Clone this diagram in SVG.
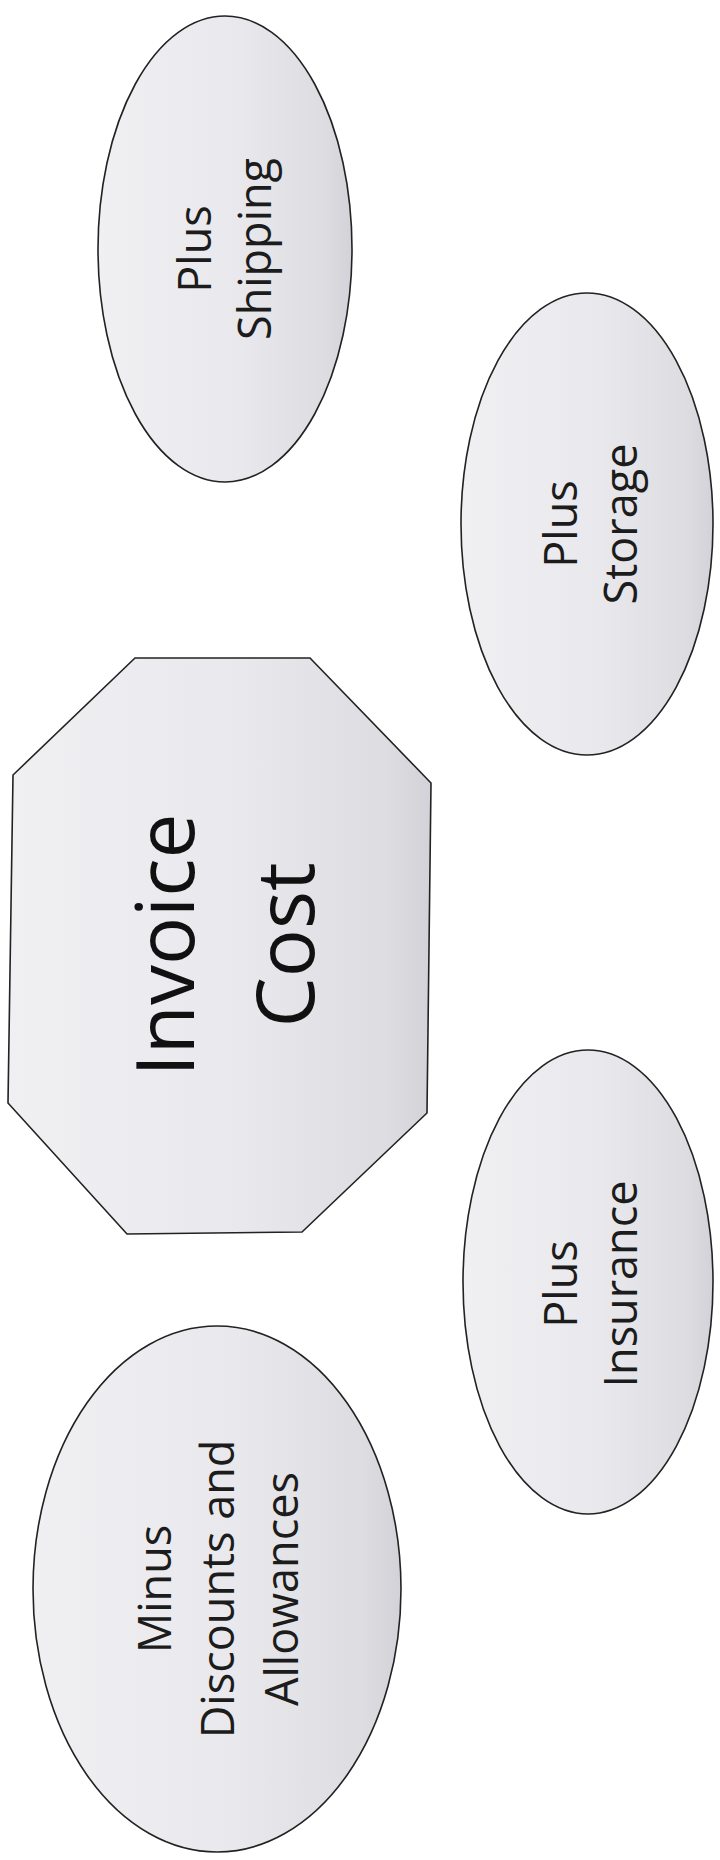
<svg xmlns="http://www.w3.org/2000/svg" width="720" height="1860" viewBox="0 0 720 1860">
  <defs>
    <linearGradient id="fillGrad" x1="0" y1="0" x2="1" y2="0">
      <stop offset="0" stop-color="#f0f0f3"/>
      <stop offset="0.55" stop-color="#e9e9ed"/>
      <stop offset="0.9" stop-color="#dcdce1"/>
      <stop offset="1" stop-color="#d2d2d8"/>
    </linearGradient>
  </defs>
  <style>
    .shape { fill: url(#fillGrad); stroke: #222; stroke-width: 1.6; }
    .lbl { font-family: "Open Sans", "Liberation Sans", sans-serif; font-size: 45px; fill: #1c1c1c; text-anchor: middle; }
    .big { font-family: "Open Sans", "Liberation Sans", sans-serif; font-size: 80px; fill: #111; text-anchor: middle; }
  </style>
  <rect width="720" height="1860" fill="#ffffff"/>

  <g id="connectors"></g>

  <g id="plus-shipping">
    <ellipse class="shape" cx="225" cy="249" rx="127" ry="233"/>
    <text class="lbl" transform="translate(211,249) rotate(-90)">Plus</text>
    <text class="lbl" transform="translate(271,249) rotate(-90)">Shipping</text>
  </g>

  <g id="plus-storage">
    <ellipse class="shape" cx="587" cy="524" rx="126" ry="231"/>
    <text class="lbl" transform="translate(577,524) rotate(-90)">Plus</text>
    <text class="lbl" transform="translate(637,524) rotate(-90)">Storage</text>
  </g>

  <g id="invoice-cost">
    <polygon class="shape" points="135,658 310,658 431,783 427,1113 302,1232 127,1234 8,1103 13,775"/>
    <text class="big" transform="translate(194,945) rotate(-90)">Invoice</text>
    <text class="big" transform="translate(314,945) rotate(-90)">Cost</text>
  </g>

  <g id="plus-insurance">
    <ellipse class="shape" cx="588" cy="1282" rx="125" ry="232"/>
    <text class="lbl" transform="translate(577,1284) rotate(-90)">Plus</text>
    <text class="lbl" transform="translate(637,1284) rotate(-90)">Insurance</text>
  </g>

  <g id="minus-discounts">
    <ellipse class="shape" cx="217" cy="1589" rx="184" ry="263"/>
    <text class="lbl" transform="translate(171,1589) rotate(-90)">Minus</text>
    <text class="lbl" transform="translate(234,1589) rotate(-90)">Discounts and</text>
    <text class="lbl" transform="translate(298,1589) rotate(-90)">Allowances</text>
  </g>
</svg>
